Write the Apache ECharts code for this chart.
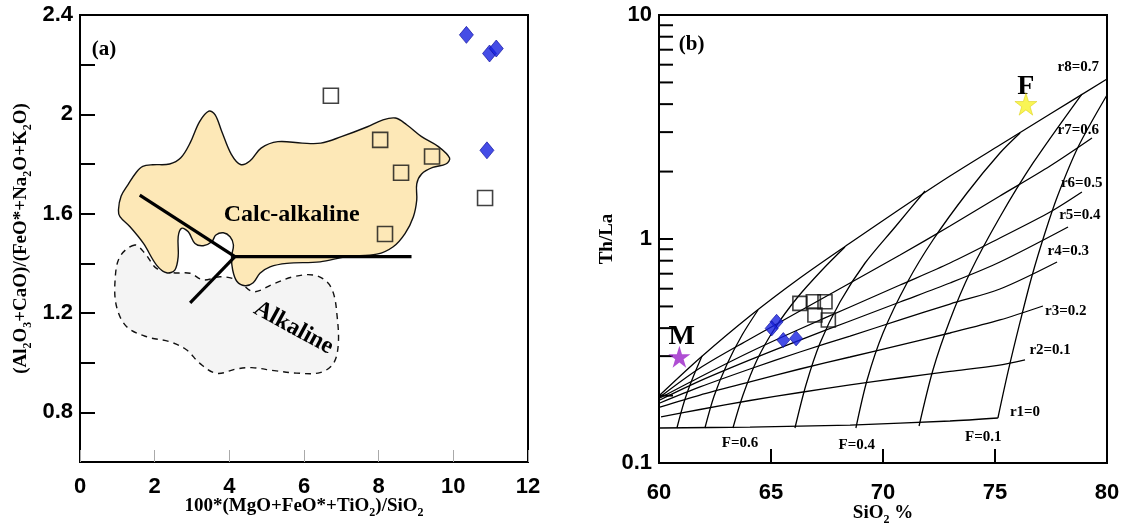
<!DOCTYPE html>
<html><head><meta charset="utf-8">
<script src="https://cdn.jsdelivr.net/npm/echarts/dist/echarts.min.js"></script>
<style>html,body{margin:0;padding:0;background:#fff}#c{width:1123px;height:525px}</style>
</head><body><div id="c"></div>
<script>
// ---------- Panel (a) data ----------
const xTicksA = [0, 2, 4, 6, 8, 10, 12];
const diamondsA = [[10.35, 2.32], [10.97, 2.245], [11.15, 2.265], [10.9, 1.855]];
const squaresA = [[6.72, 2.075], [8.04, 1.897], [8.6, 1.765], [9.43, 1.83], [8.17, 1.518], [10.85, 1.663]];
const calcAlkaline = [[1.03,1.615],[1.1,1.67],[1.3,1.72],[1.5,1.765],[1.68,1.79],[1.95,1.797],[2.4,1.8],[2.7,1.825],[2.95,1.885],[3.2,1.97],[3.45,2.013],[3.62,1.998],[3.8,1.93],[4.05,1.84],[4.3,1.798],[4.55,1.812],[4.85,1.864],[5.3,1.89],[5.95,1.884],[6.45,1.884],[7.0,1.91],[7.7,1.95],[8.1,1.977],[8.45,1.985],[8.75,1.958],[9.15,1.91],[9.6,1.87],[9.9,1.824],[9.8,1.8],[9.45,1.786],[9.15,1.76],[9.02,1.72],[9.02,1.655],[8.93,1.588],[8.71,1.521],[8.39,1.467],[7.95,1.437],[7.14,1.427],[6.43,1.406],[5.54,1.4],[5.09,1.386],[4.82,1.36],[4.64,1.322],[4.42,1.31],[4.2,1.328],[4.09,1.373],[4.06,1.427],[4.11,1.474],[4.02,1.507],[3.84,1.523],[3.64,1.514],[3.53,1.487],[3.3,1.471],[3.08,1.48],[2.9,1.527],[2.72,1.541],[2.63,1.507],[2.63,1.427],[2.54,1.373],[2.32,1.362],[2.05,1.393],[1.7,1.48],[1.34,1.547],[1.07,1.588]];
const alkaline = [[1.47,1.474],[1.07,1.427],[0.94,1.333],[0.98,1.225],[1.25,1.145],[1.79,1.104],[2.41,1.084],[2.86,1.051],[3.21,0.997],[3.66,0.957],[4.2,0.975],[4.6,0.98],[5.2,0.968],[5.8,0.958],[6.43,0.96],[6.79,0.997],[6.92,1.078],[6.88,1.198],[6.79,1.279],[6.61,1.326],[6.25,1.353],[5.71,1.346],[5.18,1.317],[4.64,1.286],[4.2,1.333],[3.75,1.346],[3.3,1.333],[2.95,1.36],[2.5,1.362],[2.05,1.38],[1.74,1.44]];
const boundaryA = [[[1.6,1.675],[4.15,1.427]], [[4.15,1.427],[8.88,1.427]], [[4.15,1.427],[2.95,1.241]]];
const textsA = ['(a)', 'Calc-alkaline', 'Alkaline'];
const textPosA = [[0.64, 2.26], [5.67, 1.595], [5.72, 1.14]];

// ---------- Panel (b) data ----------
const xTicksB = [60, 65, 70, 75, 80];
const yTicksB = [0.1, 1, 10];
const yMinorTicksB = [0.2,0.3,0.4,0.5,0.6,0.7,0.8,0.9,2,3,4,5,6,7,8,9];
const diamondsB = [[65.25, 0.427], [65.03, 0.399], [65.55, 0.354], [66.12, 0.36]];
const squaresB = [[66.29, 0.516], [66.89, 0.525], [67.41, 0.525], [66.96, 0.458], [67.56, 0.435]];
const starM = [[60.91, 0.298]];
const starF = [[76.38, 4.0]];
const r1 = [[60.04,0.1433],[64.06,0.1447],[68.53,0.1477],[72.99,0.154],[75.13,0.1588]];
const r2 = [[60.09,0.1605],[61.83,0.1733],[64.06,0.1901],[66.29,0.2064],[68.53,0.223],[70.76,0.2396],[72.99,0.2562],[75.13,0.2725],[76.34,0.2884]];
const r3 = [[60.04,0.1778],[61.83,0.2011],[64.06,0.23],[66.29,0.2628],[68.53,0.2973],[70.76,0.3363],[72.99,0.3805],[75.22,0.435],[77.14,0.5022]];
const r4 = [[60.04,0.1853],[61.83,0.2185],[64.06,0.2628],[66.29,0.313],[68.53,0.3689],[70.76,0.435],[72.99,0.5126],[75.22,0.5981],[77.77,0.7895]];
const r5 = [[60.04,0.1911],[61.83,0.2324],[64.06,0.2884],[66.29,0.354],[68.53,0.4305],[70.76,0.5233],[72.99,0.6361],[75.22,0.7895],[78.26,1.1315]];
const r6 = [[60.04,0.195],[61.83,0.242],[64.06,0.313],[66.29,0.3965],[68.53,0.4971],[70.76,0.6231],[72.99,0.7813],[75.22,1.0104],[77.46,1.3198],[78.88,1.6214]];
const r7 = [[60.04,0.197],[61.83,0.2655],[64.06,0.3577],[66.29,0.477],[68.53,0.6361],[70.76,0.8484],[72.99,1.1428],[75.22,1.556],[77.46,2.1184],[79.33,2.824]];
const r8 = [[60.04,0.2011],[61.83,0.2943],[64.06,0.4532],[66.29,0.6697],[68.53,0.9597],[70.76,1.3612],[72.99,1.9107],[75.22,2.6288],[77.46,3.614],[80.0,5.18]];
const f1 = [[60.8,0.1433],[61.12,0.1872],[61.47,0.2347],[61.92,0.3004]];
const f2 = [[62.05,0.1433],[62.46,0.1991],[63.04,0.2767],[63.71,0.3727],[64.42,0.482]];
const f3 = [[63.3,0.1433],[63.75,0.2011],[64.375,0.2884],[65.18,0.4005],[66.16,0.5453],[67.28,0.7271],[68.3,0.921]];
const f4 = [[66.07,0.1433],[66.56,0.223],[67.19,0.3434],[68.08,0.5233],[69.2,0.7813],[70.54,1.1315],[71.875,1.638]];
const f5 = [[68.79,0.1433],[69.29,0.2347],[70.0,0.3805],[71.07,0.6361],[72.23,0.9897],[73.75,1.6049],[75.22,2.42],[76.12,2.973]];
const f6 = [[71.61,0.1463],[72.23,0.2602],[72.99,0.435],[73.88,0.7052],[75.22,1.2537],[76.7,2.1847],[78.88,4.439]];
const f7 = [[75.13,0.1588],[75.58,0.2549],[76.12,0.4262],[76.65,0.6835],[77.23,1.0636],[77.81,1.5719],[78.71,2.575],[80.0,4.3953]];
const rCurves = [r1, r2, r3, r4, r5, r6, r7, r8];
const fCurves = [f1, f2, f3, f4, f5, f6, f7];
const rLabels = ['r1=0', 'r2=0.1', 'r3=0.2', 'r4=0.3', 'r5=0.4', 'r6=0.5', 'r7=0.6', 'r8=0.7'];
const rLabelPos = [[76.34,0.168],[77.46,0.319],[78.16,0.478],[78.27,0.887],[78.79,1.28],[78.87,1.78],[78.72,3.07],[78.72,5.88]];
const fLabels = ['F=0.6', 'F=0.4', 'F=0.1'];
const fLabelPos = [[63.62,0.1224],[68.83,0.1203],[74.48,0.131]];
const textsB = ['(b)', 'M', 'F'];
const textPosB = [[61.46, 7.35], [61.01, 0.366], [76.38, 4.79]];

// ---------- styling ----------
const FS = "'Liberation Serif','Times New Roman',serif";
const FA = "'Liberation Sans',Arial,sans-serif";
const STAR = 'path://M50,0 L61.2,34.5 L97.6,34.5 L68.2,55.9 L79.4,90.5 L50,69.1 L20.6,90.5 L31.8,55.9 L2.4,34.5 L38.8,34.5 Z';
const subRich = { s: { fontFamily: FS, fontWeight: 'bold', fontSize: 12, color: '#000', verticalAlign: 'bottom', lineHeight: 26 } };

function polySeries(pts, fill, stroke, dash) {
  return { type: 'custom', coordinateSystem: 'cartesian2d', xAxisIndex: 0, yAxisIndex: 0, silent: true, z: 1,
    data: pts,
    renderItem: (params, api) => {
      if (params.dataIndex !== 0) return { type: 'group', children: [] };
      return { type: 'polygon', shape: { points: pts.map(p => api.coord(p)), smooth: 0.35 },
        style: { fill: fill, stroke: stroke, lineWidth: 1.4, lineDash: dash } };
    } };
}
function textSeries(texts, pos, axis, fonts, rots) {
  return { type: 'custom', coordinateSystem: 'cartesian2d', xAxisIndex: axis, yAxisIndex: axis, silent: true, z: 6,
    data: pos,
    renderItem: (params, api) => {
      const i = params.dataIndex;
      const p = api.coord([api.value(0), api.value(1)]);
      return { type: 'text', x: p[0], y: p[1], rotation: rots ? rots[i] : 0,
        style: { text: texts[i], font: Array.isArray(fonts) ? fonts[i] : fonts, fill: '#000', align: 'center', verticalAlign: 'middle' } };
    } };
}

const series = [];
series.push(polySeries(alkaline, '#f4f4f4', '#111', [6, 5]));
series.push(polySeries(calcAlkaline, '#fde8b7', '#111', null));
boundaryA.forEach(seg => series.push({ type: 'line', xAxisIndex: 0, yAxisIndex: 0, data: seg, symbol: 'none', silent: true, z: 3,
  lineStyle: { color: '#000', width: 3.2 } }));
series.push(textSeries(textsA, textPosA, 0,
  ['bold 21px ' + FS, 'bold 24px ' + FS, 'bold 24px ' + FS], [0, 0, -0.5]));
series.push({ type: 'scatter', xAxisIndex: 0, yAxisIndex: 0, data: squaresA, symbol: 'rect', symbolSize: 15, z: 7,
  itemStyle: { color: 'rgba(0,0,0,0)', borderColor: '#111', borderWidth: 1.6 } });
series.push({ type: 'scatter', xAxisIndex: 0, yAxisIndex: 0, data: diamondsA, symbol: 'diamond', symbolSize: [14, 17], z: 7,
  itemStyle: { color: '#1620e0', borderColor: '#0a0a9a', borderWidth: 0.8 } });

rCurves.concat(fCurves).forEach(c => series.push({ type: 'line', xAxisIndex: 1, yAxisIndex: 1, data: c, symbol: 'none', silent: true,
  smooth: 0.3, lineStyle: { color: '#000', width: 1.3 } }));
series.push({ type: 'custom', coordinateSystem: 'cartesian2d', xAxisIndex: 1, yAxisIndex: 1, silent: true, z: 5,
  data: yMinorTicksB.map(v => [xTicksB[0], v]),
  renderItem: (params, api) => {
    const p = api.coord([api.value(0), api.value(1)]);
    return { type: 'line', shape: { x1: p[0], y1: p[1], x2: p[0] + 14, y2: p[1] }, style: { stroke: '#000', lineWidth: 2 } };
  } });
series.push(textSeries(rLabels, rLabelPos, 1, 'bold 15px ' + FS));
series.push(textSeries(fLabels, fLabelPos, 1, 'bold 15px ' + FS));
series.push(textSeries(textsB, textPosB, 1, ['bold 21px ' + FS, 'bold 28px ' + FS, 'bold 28px ' + FS]));
series.push({ type: 'scatter', xAxisIndex: 1, yAxisIndex: 1, data: squaresB, symbol: 'rect', symbolSize: 14, z: 7,
  itemStyle: { color: 'rgba(0,0,0,0)', borderColor: '#111', borderWidth: 1.6 } });
series.push({ type: 'scatter', xAxisIndex: 1, yAxisIndex: 1, data: diamondsB, symbol: 'diamond', symbolSize: [13, 15], z: 7,
  itemStyle: { color: '#1620e0', borderColor: '#0a0a9a', borderWidth: 0.8 } });
series.push({ type: 'scatter', xAxisIndex: 1, yAxisIndex: 1, data: starM, symbol: STAR, symbolSize: 22, z: 7,
  itemStyle: { color: '#9b22c8' } });
series.push({ type: 'scatter', xAxisIndex: 1, yAxisIndex: 1, data: starF, symbol: STAR, symbolSize: 22, z: 7,
  itemStyle: { color: '#f7f22a', borderColor: '#d8c800', borderWidth: 0.6 } });

const xLbl = (m) => ({ color: '#000', fontFamily: FA, fontWeight: 'bold', fontSize: 22, margin: m });
const yLbl = (m) => Object.assign(xLbl(m), { verticalAlignMinLabel: 'middle', verticalAlignMaxLabel: 'middle' });
const nameStyle = { fontFamily: FS, fontWeight: 'bold', fontSize: 19, color: '#000', rich: subRich };

const option = {
  animation: false,
  backgroundColor: '#fff',
  grid: [
    { left: 80, top: 15, width: 448, height: 447, show: true, borderColor: '#000', borderWidth: 2, containLabel: false, outerBoundsMode: 'none' },
    { left: 659, top: 15, width: 448, height: 448, show: true, borderColor: '#000', borderWidth: 2, containLabel: false, outerBoundsMode: 'none' }
  ],
  xAxis: [
    { gridIndex: 0, type: 'value', min: xTicksA[0], max: xTicksA[xTicksA.length - 1], interval: 2,
      axisLine: { lineStyle: { color: '#000', width: 2 } },
      axisTick: { inside: true, length: 12, lineStyle: { color: '#aaa', width: 1 } },
      axisLabel: xLbl(14), splitLine: { show: false },
      name: '100*(MgO+FeO*+TiO{s|2})/SiO{s|2}', nameLocation: 'middle', nameGap: 31, nameMoveOverlap: false, nameTextStyle: nameStyle },
    { gridIndex: 1, type: 'value', min: xTicksB[0], max: xTicksB[xTicksB.length - 1], interval: 5,
      axisLine: { lineStyle: { color: '#000', width: 2 } },
      axisTick: { inside: true, length: 14, lineStyle: { color: '#000', width: 2 } },
      axisLabel: xLbl(19), splitLine: { show: false },
      name: 'SiO{s|2} %', nameLocation: 'middle', nameGap: 37, nameMoveOverlap: false, nameTextStyle: nameStyle }
  ],
  yAxis: [
    { gridIndex: 0, type: 'value', min: 0.6, max: 2.4, interval: 0.2,
      axisLine: { lineStyle: { color: '#000', width: 2 } },
      axisTick: { inside: true, length: 15, lineStyle: { color: '#000', width: 2 } },
      axisLabel: Object.assign(yLbl(7), { formatter: v => (Math.round(v * 10) % 4 === 0 ? String(+v.toFixed(1)) : '') }),
      splitLine: { show: false },
      name: '(Al{s|2}O{s|3}+CaO)/(FeO*+Na{s|2}O+K{s|2}O)', nameLocation: 'middle', nameGap: 46, nameMoveOverlap: false, nameTextStyle: nameStyle },
    { gridIndex: 1, type: 'log', logBase: 10, min: yTicksB[0], max: yTicksB[yTicksB.length - 1],
      axisLine: { lineStyle: { color: '#000', width: 2 } },
      axisTick: { inside: true, length: 14, lineStyle: { color: '#000', width: 2 } },
      axisLabel: Object.assign(yLbl(7), { formatter: v => (v < 0.5 ? '0.1' : String(Math.round(v))) }),
      splitLine: { show: false }, minorTick: { show: false },
      name: 'Th/La', nameLocation: 'middle', nameGap: 42, nameMoveOverlap: false, nameTextStyle: nameStyle }
  ],
  series: series
};
const chart = echarts.init(document.getElementById('c'));
chart.setOption(option);
</script></body></html>
